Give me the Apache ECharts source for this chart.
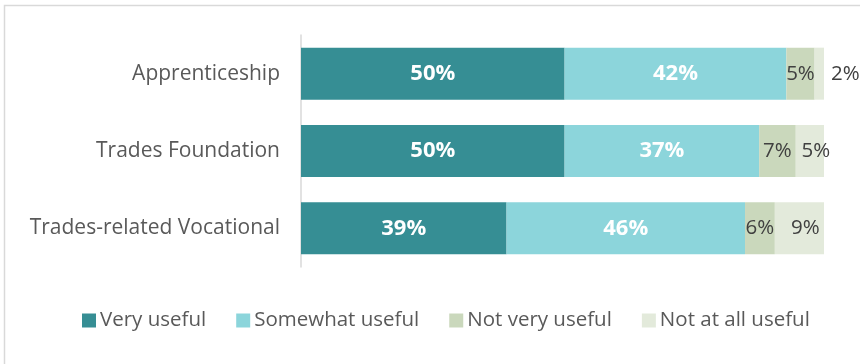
<!DOCTYPE html>
<html lang="en">
<head>
  <meta charset="UTF-8">
  <title>Usefulness by programme</title>
  <script src="https://cdn.jsdelivr.net/npm/echarts@6/dist/echarts.min.js"></script>
  <style>
    html, body { margin: 0; padding: 0; background: #fff; }
    #chart { width: 860px; height: 364px; }
  </style>
</head>
<body>
  <div id="chart"></div>
  <script>
    // categories, top to bottom
    const programmes = ['Apprenticeship', 'Trades Foundation', 'Trades-related Vocational']
    const seriesNames = ['Very useful', 'Somewhat useful', 'Not very useful', 'Not at all useful']
    // shares in percent (labels show them rounded)
    const veryUseful = [50.4, 50.4, 39.3]
    const somewhatUseful = [42.4, 37.2, 45.6]
    const notVeryUseful = [5.4, 7.0, 5.7]
    const notAtAllUseful = [1.8, 5.4, 9.4]

    const colors = ['#368e94', '#8cd5db', '#cad8bc', '#e3eadb']
    const font = '"Open Sans", sans-serif'

    const chart = echarts.init(document.getElementById('chart'), null, { renderer: 'canvas' })

    function pct (p) { return Math.round(p.value) + '%' }

    const values = [veryUseful, somewhatUseful, notVeryUseful, notAtAllUseful]
    const series = values.map((vals, i) => {
      const dark = i < 2
      return {
        name: seriesNames[i],
        type: 'bar',
        stack: 'total',
        barWidth: 52,
        itemStyle: { color: colors[i] },
        label: {
          show: true,
          position: 'inside',
          offset: i === 3 ? [6, 0] : [0, 0],
          formatter: pct,
          fontFamily: font,
          fontSize: dark ? 22 : 20.5,
          fontWeight: dark ? 'bold' : 'normal',
          color: dark ? '#ffffff' : '#404040'
        },
        data: vals.map(v => {
          // the tiny last segment carries its label outside the bar
          if (i === 3 && v < 3) {
            return { value: v, label: { position: 'right', distance: 7, offset: [0, 0] } }
          }
          return v
        })
      }
    })

    chart.setOption({
      animation: false,
      backgroundColor: '#fff',
      color: colors,
      graphic: [{
        type: 'rect',
        shape: { x: 4.5, y: 5.5, width: 900, height: 400 },
        style: { fill: 'none', stroke: '#d9d9d9', lineWidth: 1.5 },
        silent: true
      }],
      legend: {
        top: 305,
        left: 77,
        itemWidth: 14,
        itemHeight: 14,
        itemGap: 30,
        icon: 'rect',
        textStyle: { fontFamily: font, fontSize: 20.5, color: '#595959', padding: [0, 0, 0, -1] },
        data: seriesNames
      },
      grid: { left: 301, right: 36, top: 35, bottom: 97 },
      xAxis: {
        type: 'value',
        min: 0,
        max: 100,
        show: false
      },
      yAxis: {
        type: 'category',
        inverse: true,
        data: programmes,
        axisLine: { lineStyle: { color: '#d9d9d9', width: 1.5 } },
        axisTick: { show: false },
        axisLabel: { margin: 21, fontFamily: font, fontSize: 21, color: '#595959' }
      },
      series: series
    })
  </script>
</body>
</html>
